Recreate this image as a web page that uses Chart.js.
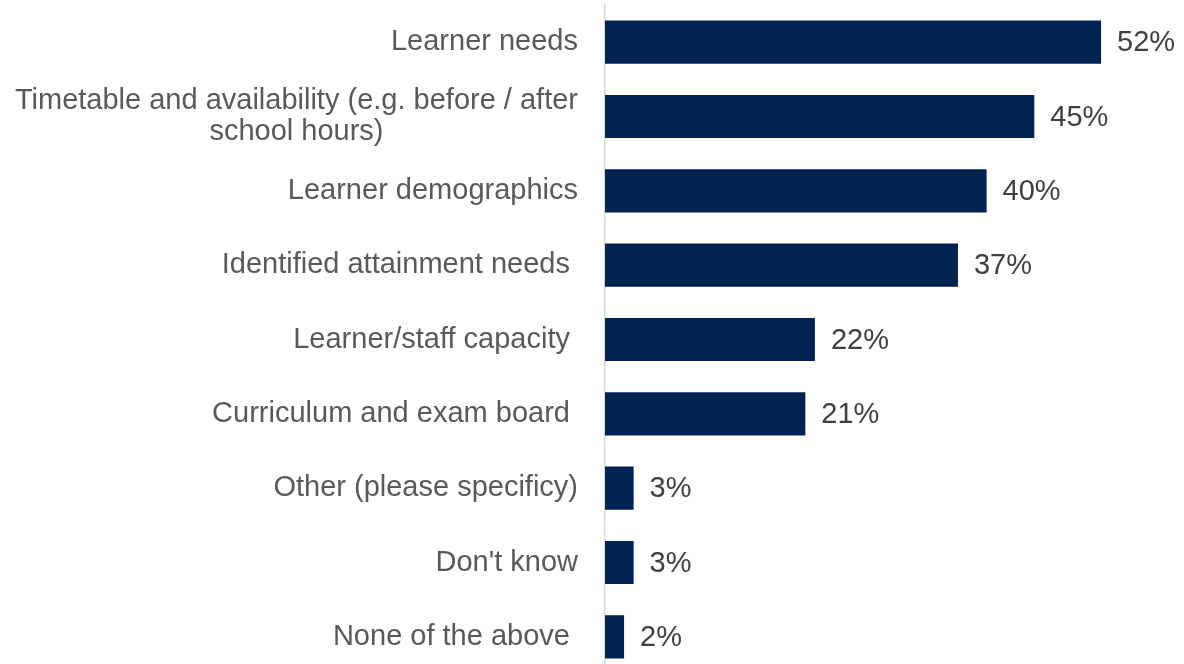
<!DOCTYPE html>
<html>
<head>
<meta charset="utf-8">
<script src="https://cdn.jsdelivr.net/npm/chart.js@4"></script>
<style>
  html, body { margin: 0; padding: 0; background: #ffffff; overflow: hidden; }
  #wrap { position: relative; width: 1184px; height: 675px; }
</style>
</head>
<body>
<div id="wrap"><canvas id="chart"></canvas></div>
<script>
// Survey answers, share of respondents (%)
const categories = [
  'Learner needs',
  ['Timetable and availability (e.g. before / after', 'school hours)'],
  'Learner demographics',
  'Identified attainment needs ',
  'Learner/staff capacity ',
  'Curriculum and exam board ',
  'Other (please specificy)',
  "Don't know",
  'None of the above '
];
const values = [52, 45, 40, 37, 22, 21, 3, 3, 2];

const barColor = '#002352';
const labelFont = '29px "Liberation Sans", Arial, sans-serif';

// Category labels: right aligned, wrapped ones centred on their widest line
const categoryLabels = {
  id: 'categoryLabels',
  afterDraw(chart) {
    const { ctx } = chart;
    const y = chart.scales.y;
    const right = 578;
    ctx.save();
    ctx.font = labelFont;
    ctx.fillStyle = '#595959';
    ctx.textBaseline = 'middle';
    categories.forEach((label, i) => {
      const cy = y.getPixelForValue(i);
      if (Array.isArray(label)) {
        const lineH = 31;
        const widest = Math.max(...label.map(l => ctx.measureText(l).width));
        ctx.textAlign = 'center';
        label.forEach((line, j) => {
          ctx.fillText(line, right - widest / 2, cy + (j - (label.length - 1) / 2) * lineH);
        });
      } else {
        ctx.textAlign = 'right';
        ctx.fillText(label, right, cy);
      }
    });
    ctx.restore();
  }
};

// Percentage labels just past the end of each bar
const valueLabels = {
  id: 'valueLabels',
  afterDatasetsDraw(chart) {
    const { ctx } = chart;
    const meta = chart.getDatasetMeta(0);
    ctx.save();
    ctx.font = labelFont;
    ctx.fillStyle = '#404040';
    ctx.textAlign = 'left';
    ctx.textBaseline = 'middle';
    meta.data.forEach((bar, i) => {
      ctx.fillText(values[i] + '%', bar.x + 16, bar.y + 1);
    });
    ctx.restore();
  }
};

new Chart(document.getElementById('chart'), {
  type: 'bar',
  data: {
    labels: categories,
    datasets: [{
      data: values,
      backgroundColor: barColor,
      borderWidth: 0,
      barPercentage: 0.58,
      categoryPercentage: 1
    }]
  },
  options: {
    indexAxis: 'y',
    responsive: true,
    maintainAspectRatio: false,
    animation: false,
    layout: { padding: { top: 5, bottom: 1, left: 0, right: 6.6 } },
    plugins: {
      legend: { display: false },
      tooltip: { enabled: false }
    },
    scales: {
      x: {
        display: false,
        min: 0,
        max: 60
      },
      y: {
        afterFit(scale) { scale.width = 605; },
        ticks: { display: false },
        grid: { display: false },
        border: { display: true, color: '#d9d9d9', width: 1.5 }
      }
    }
  },
  plugins: [categoryLabels, valueLabels]
});
</script>
</body>
</html>
